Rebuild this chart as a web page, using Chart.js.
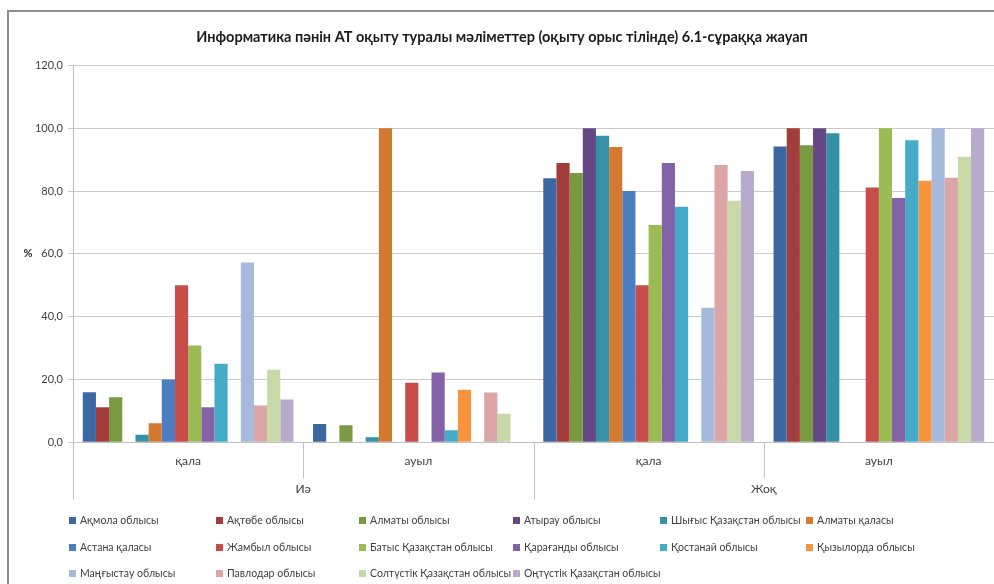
<!DOCTYPE html>
<html>
<head>
<meta charset="utf-8">
<script src="https://cdn.jsdelivr.net/npm/chart.js@4/dist/chart.umd.min.js"></script>
<style>
    html, body { margin: 0; padding: 0; background: #fff; overflow: hidden; }
    #wrap { position: relative; width: 994px; height: 584px; }
    #frame { position: absolute; left: 7px; top: 10px; width: 1000px; height: 600px; border: 2px solid #8e8e8e; }
    #chart { position: absolute; left: 0; top: 0; }
    #legend { position: absolute; left: 0; top: 0; width: 994px; height: 584px; pointer-events: none;
              font-family: Lato, "Open Sans", sans-serif; font-size: 10.5px; color: #404040; }
    .item { position: absolute; display: flex; align-items: center; white-space: nowrap; }
    .box { width: 7px; height: 7px; margin-right: 4px; }
</style>
</head>
<body>
<div id="wrap">
    <div id="frame"></div>
    <canvas id="chart" width="994" height="584"></canvas>
    <div id="legend"></div>
</div>
<script>
// категориялар
const categories = ['қала', 'ауыл', 'қала', 'ауыл'];
const groups = ['Иә', 'Жоқ'];
const yTicks = [0, 20, 40, 60, 80, 100, 120];

const seriesNames = [
    'Ақмола облысы', 'Ақтөбе облысы', 'Алматы облысы', 'Атырау облысы',
    'Шығыс Қазақстан облысы', 'Алматы қаласы', 'Астана қаласы', 'Жамбыл облысы',
    'Батыс Қазақстан облысы', 'Қарағанды облысы', 'Қостанай облысы', 'Қызылорда облысы',
    'Маңғыстау облысы', 'Павлодар облысы', 'Солтүстік Қазақстан облысы', 'Оңтүстік Қазақстан облысы'
];

// мәндер (%): Иә қала, Иә ауыл, Жоқ қала, Жоқ ауыл
const akmola      = [15.9, 5.8, 84.1, 94.2];
const aktobe      = [11.1, 0, 88.9, 100];
const almatyObl   = [14.3, 5.4, 85.7, 94.6];
const atyrau      = [0, 0, 100, 100];
const shygys      = [2.4, 1.6, 97.6, 98.4];
const almatyCity  = [6.0, 100, 94.0, 0];
const astana      = [20.0, 0, 80.0, 0];
const zhambyl     = [50.0, 18.9, 50.0, 81.1];
const batys       = [30.8, 0, 69.2, 100];
const karagandy   = [11.1, 22.2, 88.9, 77.8];
const kostanay    = [25.0, 3.8, 75.0, 96.2];
const kyzylorda   = [0, 16.7, 0, 83.3];
const mangystau   = [57.2, 0, 42.8, 100];
const pavlodar    = [11.7, 15.8, 88.3, 84.2];
const soltustik   = [23.1, 9.1, 76.9, 90.9];
const ontustik    = [13.6, 0, 86.4, 100];

const seriesValues = [akmola, aktobe, almatyObl, atyrau, shygys, almatyCity, astana, zhambyl,
    batys, karagandy, kostanay, kyzylorda, mangystau, pavlodar, soltustik, ontustik];

const colors = [
    '#3b68a1', '#a33d3c', '#7a9a42', '#634883', '#3590a8', '#d47a30', '#4a7ec0', '#c84c4a',
    '#9bbb55', '#8462a8', '#44abc8', '#f7953f', '#a6badb', '#dba4a5', '#c8d9a8', '#b7aacb'
];

const FONT = 'Lato, "Open Sans", sans-serif';

// % белгісі және санат бөлгіш сызықтар
const axisExtras = {
    id: 'axisExtras',
    afterDraw(chart) {
        const { ctx, chartArea } = chart;
        const n = categories.length;
        const w = (chartArea.right - chartArea.left) / n;
        ctx.save();
        ctx.strokeStyle = '#c4c4c4';
        ctx.lineWidth = 1;
        for (let i = 0; i <= n; i++) {
            const x = Math.round(chartArea.left + i * w) + 0.5;
            const len = (i % 2 === 0) ? 58 : 36;
            ctx.beginPath();
            ctx.moveTo(x, chartArea.bottom);
            ctx.lineTo(x, chartArea.bottom + len);
            ctx.stroke();
        }
        ctx.font = 'bold 11px ' + FONT;
        ctx.fillStyle = '#262626';
        ctx.textAlign = 'center';
        ctx.textBaseline = 'middle';
        ctx.fillText('%', 28, (chartArea.top + chartArea.bottom) / 2);
        ctx.restore();
    }
};

const chart = new Chart(document.getElementById('chart'), {
    type: 'bar',
    data: {
        labels: categories,
        datasets: seriesNames.map((name, i) => ({
            label: name,
            data: seriesValues[i],
            backgroundColor: colors[i],
            borderWidth: 0,
            barPercentage: 1,
            categoryPercentage: 0.915
        }))
    },
    options: {
        responsive: false,
        animation: false,
        layout: { padding: { top: 12, left: 10, right: 0, bottom: 87 } },
        plugins: {
            legend: { display: false },
            tooltip: { enabled: false },
            title: {
                display: true,
                text: 'Информатика пəнін АТ оқыту туралы мəліметтер (оқыту орыс тілінде) 6.1-сұраққа жауап',
                color: '#1a1a1a',
                font: { family: FONT, size: 14.5, weight: 'bold' },
                padding: { top: 17, bottom: 19 }
            }
        },
        scales: {
            x: {
                grid: { display: false, drawTicks: false },
                border: { color: '#bfbfbf' },
                ticks: { color: '#404040', font: { family: FONT, size: 12 }, padding: 12 }
            },
            x2: {
                type: 'category',
                labels: groups,
                position: 'bottom',
                offset: true,
                grid: { display: false, drawTicks: false },
                border: { display: false },
                ticks: { color: '#404040', font: { family: FONT, size: 12 }, padding: 1 }
            },
            y: {
                min: 0,
                max: 120,
                afterBuildTicks: (scale) => { scale.ticks = yTicks.map(v => ({ value: v })); },
                afterFit: (scale) => { scale.width = 63; },
                grid: { color: '#cacaca', tickLength: 5 },
                border: { color: '#bfbfbf' },
                ticks: {
                    color: '#404040',
                    font: { family: FONT, size: 11 },
                    padding: 5,
                    callback: (v) => v.toFixed(1).replace('.', ',')
                }
            }
        }
    },
    plugins: [axisExtras]
});

// легенда (Excel сияқты торда)
const colLeft = [69, 216, 359, 513, 660, 806];
const rowMid = [520, 547, 573];
const legendEl = document.getElementById('legend');
chart.data.datasets.forEach((ds, i) => {
    const item = document.createElement('div');
    item.className = 'item';
    item.style.left = colLeft[i % 6] + 'px';
    item.style.top = (rowMid[Math.floor(i / 6)] - 8) + 'px';
    item.style.height = '16px';
    item.innerHTML = `<span class="box" style="background:${ds.backgroundColor}"></span><span>${ds.label}</span>`;
    legendEl.appendChild(item);
});
</script>
</body>
</html>
